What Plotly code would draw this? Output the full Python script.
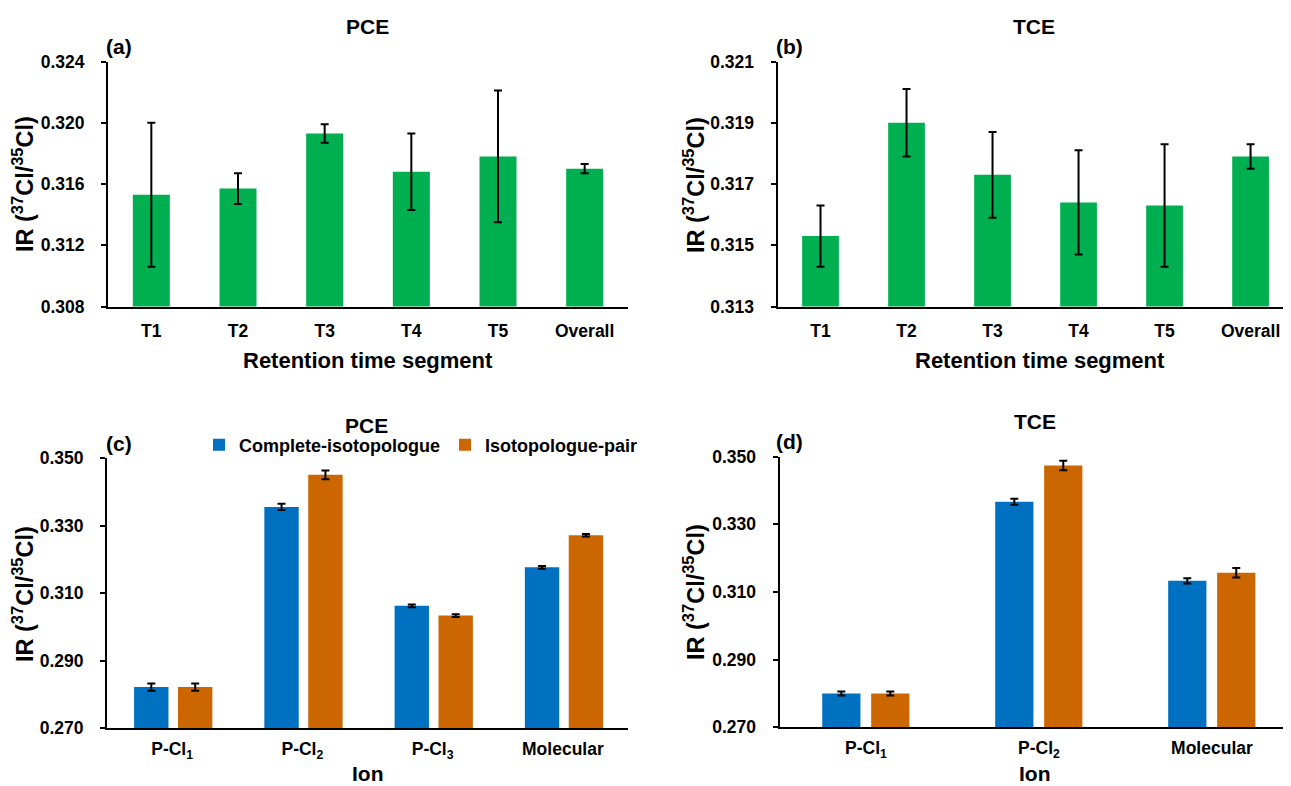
import plotly.graph_objects as go

# ---------------- data ----------------
seg_labels = ["T1", "T2", "T3", "T4", "T5", "Overall"]
pce_seg_ir = [0.3153, 0.3157, 0.3193, 0.3168, 0.3178, 0.3170]
pce_seg_err = [0.0047, 0.0010, 0.0006, 0.0025, 0.0043, 0.0003]
tce_seg_ir = [0.3153, 0.3190, 0.3173, 0.3164, 0.3163, 0.3179]
tce_seg_err = [0.0010, 0.0011, 0.0014, 0.0017, 0.0020, 0.0004]

pce_ions = ["P-Cl1", "P-Cl2", "P-Cl3", "Molecular"]
pce_ion_text = ["P-Cl<sub>1</sub>", "P-Cl<sub>2</sub>", "P-Cl<sub>3</sub>", "Molecular"]
pce_complete = [0.2822, 0.3356, 0.3063, 0.3177]
pce_complete_err = [0.0011, 0.0009, 0.0004, 0.0004]
pce_pair = [0.2822, 0.3451, 0.3034, 0.3272]
pce_pair_err = [0.0011, 0.0013, 0.0004, 0.0004]

tce_ions = ["P-Cl1", "P-Cl2", "Molecular"]
tce_ion_text = ["P-Cl<sub>1</sub>", "P-Cl<sub>2</sub>", "Molecular"]
tce_complete = [0.2800, 0.3367, 0.3133]
tce_complete_err = [0.0006, 0.0009, 0.0008]
tce_pair = [0.2800, 0.3474, 0.3157]
tce_pair_err = [0.0006, 0.0014, 0.0014]

# ---------------- styling ----------------
# the page body has an 8px margin, so the figure is sized to the visible area
PAGE_OFF = 8
W, H = 1291 - PAGE_OFF, 786 - PAGE_OFF
GREEN = "#00B050"
BLUE = "#0070C0"
ORANGE = "#CC6600"
FONT = "Liberation Sans, Arial, sans-serif"

def px_x(p):
    return (p - PAGE_OFF) / W

def px_y(p):
    return 1 - (p - PAGE_OFF) / H

err_style = dict(type="data", thickness=2, width=4, color="black", visible=True)

fig = go.Figure()

fig.add_trace(go.Bar(x=seg_labels, y=pce_seg_ir, marker_color=GREEN,
                     error_y=dict(array=pce_seg_err, **err_style),
                     xaxis="x", yaxis="y", showlegend=False))
fig.add_trace(go.Bar(x=seg_labels, y=tce_seg_ir, marker_color=GREEN,
                     error_y=dict(array=tce_seg_err, **err_style),
                     xaxis="x2", yaxis="y2", showlegend=False))
fig.add_trace(go.Bar(x=pce_ions, y=pce_complete, name="Complete-isotopologue",
                     marker_color=BLUE,
                     error_y=dict(array=pce_complete_err, **err_style),
                     xaxis="x3", yaxis="y3", showlegend=True))
fig.add_trace(go.Bar(x=pce_ions, y=pce_pair, name="Isotopologue-pair",
                     marker_color=ORANGE,
                     error_y=dict(array=pce_pair_err, **err_style),
                     xaxis="x3", yaxis="y3", showlegend=True))
fig.add_trace(go.Bar(x=tce_ions, y=tce_complete, name="Complete-isotopologue",
                     marker_color=BLUE,
                     error_y=dict(array=tce_complete_err, **err_style),
                     xaxis="x4", yaxis="y4", showlegend=False))
fig.add_trace(go.Bar(x=tce_ions, y=tce_pair, name="Isotopologue-pair",
                     marker_color=ORANGE,
                     error_y=dict(array=tce_pair_err, **err_style),
                     xaxis="x4", yaxis="y4", showlegend=False))

# explicit bar widths/offsets (category units) for the grouped panels
for tr, w, off in [(2, 0.264, -0.292), (3, 0.264, 0.045),
                   (4, 0.221, -0.253), (5, 0.221, 0.030)]:
    fig.data[tr].width = w
    fig.data[tr].offset = off

tickfont = dict(family=FONT, size=17.5, color="black", weight="bold")

def xax(domain, rng, anchor, standoff=7, **kw):
    d = dict(domain=domain, range=rng, anchor=anchor, type="category",
             showline=True, linecolor="black", linewidth=2, ticks="",
             ticklabelstandoff=standoff,
             showgrid=False, zeroline=False, tickfont=tickfont, fixedrange=True,
             automargin=False)
    d.update(kw)
    return d

def yax(domain, rng, dtick, anchor):
    return dict(domain=domain, range=rng, dtick=dtick, tick0=rng[0], anchor=anchor,
                showline=True, linecolor="black", linewidth=2, ticks="outside",
                ticklen=5, tickwidth=2, tickcolor="black", tickformat=".3f",
                ticklabelstandoff=13,
                showgrid=False, zeroline=False, tickfont=tickfont, fixedrange=True,
                automargin=False)

top_dom = [px_y(306.5), px_y(61.5)]
c_dom = [px_y(728.3), px_y(458.3)]
d_dom = [px_y(727.3), px_y(456.7)]

fig.update_layout(
    template="none",
    width=W, height=H,
    margin=dict(l=0, r=0, t=0, b=0, autoexpand=False),
    paper_bgcolor="white", plot_bgcolor="white",
    font=dict(family=FONT, color="black"),
    xaxis=xax([px_x(108), px_x(628)], [-0.5, 5.5], "y"),
    yaxis=yax(top_dom, [0.308, 0.324], 0.004, "x"),
    xaxis2=xax([px_x(777.5), 1.0], [-0.5, 5.47], "y2"),
    yaxis2=yax(top_dom, [0.313, 0.321], 0.002, "x2"),
    xaxis3=xax([px_x(107), px_x(628)], [-0.5, 3.5], "y3", standoff=4,
               tickvals=pce_ions, ticktext=pce_ion_text),
    yaxis3=yax(c_dom, [0.270, 0.350], 0.02, "x3"),
    xaxis4=xax([px_x(779.5), 1.0], [-0.5, 2.457], "y4", standoff=4,
               tickvals=tce_ions, ticktext=tce_ion_text),
    yaxis4=yax(d_dom, [0.270, 0.350], 0.02, "x4"),
    bargap=0.573,
    legend=dict(orientation="h", x=px_x(199), y=px_y(445), xanchor="left", yanchor="middle",
                font=dict(family=FONT, size=18, color="black", weight="bold"),
                bgcolor="rgba(0,0,0,0)", borderwidth=0,
                itemclick=False, itemdoubleclick=False),
    showlegend=True,
)

ann = []
def text(x, y, s, size, angle=0, xanchor="center"):
    ann.append(dict(x=px_x(x), y=px_y(y), xref="paper", yref="paper", text=s,
                    showarrow=False, textangle=angle, xanchor=xanchor, yanchor="middle",
                    borderpad=0,
                    font=dict(family=FONT, size=size, color="black", weight="bold")))

ytitle = "IR (<sup>37</sup>Cl/<sup>35</sup>Cl)"
# panel titles
text(367, 27, "PCE", 21)
text(1034, 26, "TCE", 21)
text(366, 425, "PCE", 21)
text(1035, 421, "TCE", 21)
# panel letters
text(105, 46, "(a)", 21, xanchor="left")
text(775, 46, "(b)", 21, xanchor="left")
text(105, 443, "(c)", 21, xanchor="left")
text(775, 441, "(d)", 21, xanchor="left")
# axis titles
text(368, 360, "Retention time segment", 22)
text(1040, 360, "Retention time segment", 22)
text(368, 773, "Ion", 21)
text(1035, 773, "Ion", 21)
text(23, 184, ytitle, 23.5, angle=-90)
text(694, 185, ytitle, 23.5, angle=-90)
text(23, 594, ytitle, 23.5, angle=-90)
text(694, 592, ytitle, 23.5, angle=-90)

fig.update_layout(annotations=ann)
fig.write_html("out.html")
